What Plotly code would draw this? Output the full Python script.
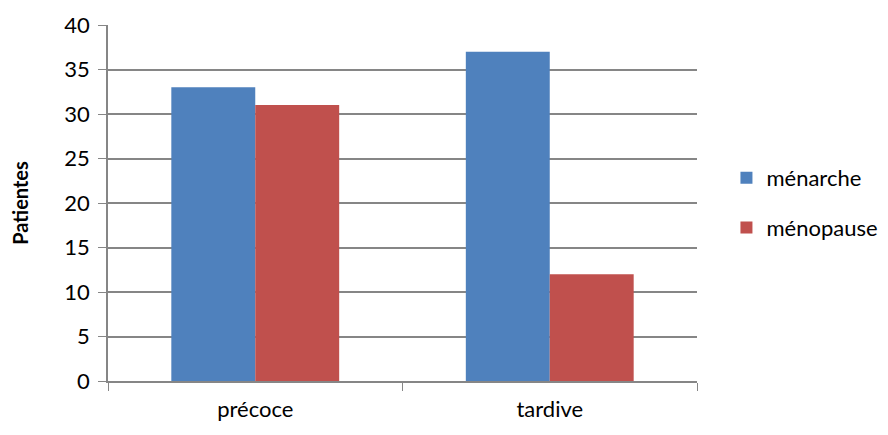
import plotly.graph_objects as go

categories = ["précoce", "tardive"]
menarche = [33, 37]
menopause = [31, 12]
y_ticks = [0, 5, 10, 15, 20, 25, 30, 35, 40]

BLUE = "#4F81BD"
RED = "#C0504D"
GRID = "#868686"
FONT = "Lato, Carlito, Calibri, sans-serif"

fig = go.Figure()
fig.add_trace(go.Bar(name="ménarche", x=categories, y=menarche,
                     marker=dict(color=BLUE, line=dict(width=0)),
                     legendgroup="a"))
fig.add_trace(go.Bar(name="ménopause", x=categories, y=menopause,
                     marker=dict(color=RED, line=dict(width=0)),
                     legendgroup="b"))

fig.update_layout(
    width=888, height=435,
    margin=dict(l=108, r=191, t=25, b=54, autoexpand=False),
    paper_bgcolor="white", plot_bgcolor="white",
    barmode="group", bargap=0.43, bargroupgap=0,
    font=dict(family=FONT, size=22, color="#000000"),
    showlegend=True,
    legend=dict(x=1.05, y=0.5, xanchor="left", yanchor="middle",
                traceorder="grouped", tracegroupgap=18,
                font=dict(size=22), itemwidth=30,
                bgcolor="rgba(0,0,0,0)"),
    xaxis=dict(type="category", tickson="boundaries", ticks="outside",
               ticklen=8, tickcolor=GRID, showline=True, linecolor=GRID,
               linewidth=1.5, showgrid=False, tickfont=dict(size=22),
               ticklabelstandoff=8, range=[-0.5, 1.5], automargin=False),
    yaxis=dict(range=[0, 40], tickvals=y_ticks, ticks="outside", ticklen=8,
               tickcolor=GRID, showline=True, linecolor=GRID, linewidth=1.5,
               showgrid=True, gridcolor=GRID, gridwidth=1.5, zeroline=False,
               tickfont=dict(size=22), ticklabelstandoff=4, automargin=False,
               title=dict(text="<b>Patientes</b>", font=dict(size=20),
                          standoff=30)),
)

fig.write_html("out.html")
